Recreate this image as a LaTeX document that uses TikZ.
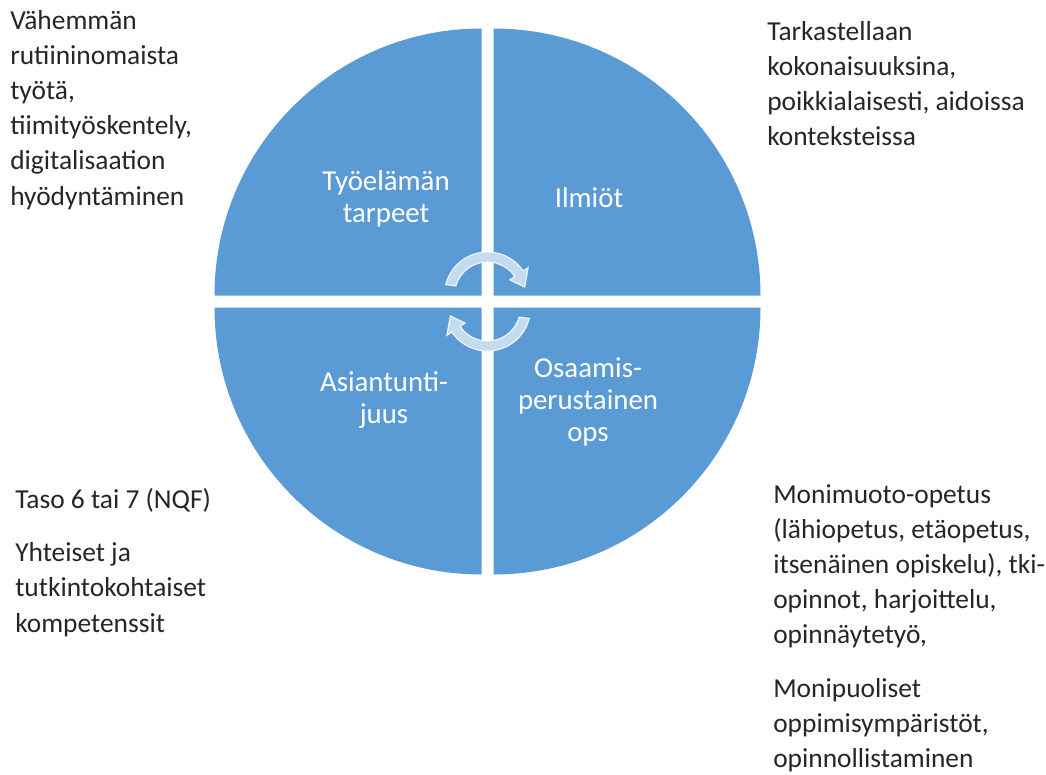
\documentclass[tikz,border=0pt]{standalone}
\usepackage{fontspec}
\setmainfont{Carlito}
\usetikzlibrary{positioning,calc}
\definecolor{quadblue}{HTML}{5B9BD5}
\colorlet{turnfill}{white!64!quadblue}

\begin{document}
\begin{tikzpicture}[x=0.025cm,y=0.025cm,
    quad/.style={fill=quadblue},
    quadtext/.style={white,align=center,font=\fontsize{20.5}{23}\selectfont},
    note/.style={black!85,align=left,anchor=north west,inner sep=0,font=\fontsize{19.5}{25}\selectfont},
    turnarrow/.style={fill=turnfill,draw=white!90!quadblue,line width=0.8}]

    \useasboundingbox (0,0) rectangle (1046,-775);

    % four quarter discs, pulled apart a little
    \coordinate (C) at (487.5,-301.5);
    \fill[quad] ($(C)+(-6,6)$) -- ++(-267,0) arc[start angle=180,end angle=90,radius=267] -- cycle;
    \fill[quad] ($(C)+(6,6)$) -- ++(0,267) arc[start angle=90,end angle=0,radius=267] -- cycle;
    \fill[quad] ($(C)+(-6,-6)$) -- ++(0,-267) arc[start angle=270,end angle=180,radius=267] -- cycle;
    \fill[quad] ($(C)+(6,-6)$) -- ++(267,0) arc[start angle=0,end angle=-90,radius=267] -- cycle;

    % turning arrows in the middle
    \coordinate (Ct) at ($(C)+(0,6.5)$);
    \coordinate (Cb) at ($(C)+(0,-6.5)$);
    \path[turnarrow,shift={(Ct)}] (166:43) arc[start angle=166,end angle=34,radius=43]
        -- (34:49) -- (12:38) -- (34:27) -- (34:33)
        arc[start angle=34,end angle=164,radius=33] -- cycle;
    \path[turnarrow,shift={(Cb)}] (-14:43) arc[start angle=-14,end angle=-146,radius=43]
        -- (-146:49) -- (-168:38) -- (-146:27) -- (-146:33)
        arc[start angle=-146,end angle=-16,radius=33] -- cycle;

    \node[quadtext] (needs) at (386,-199) {Työelämän\\tarpeet};
    \node[quadtext] (phenom) at (589,-198) {Ilmiöt};
    \node[quadtext] (expert) at (384,-400) {Asiantunti-\\juus};
    \node[quadtext] (curric) at (588,-402) {Osaamis-\\perustainen\\ops};

    \node[note] (needsnote) at (10,-10) {Vähemmän\\rutiininomaista\\työtä,\\tiimityöskentely,\\digitalisaation\\hyödyntäminen};
    \node[note] (phenomnote) at (767,-21) {Tarkastellaan\\kokonaisuuksina,\\poikkialaisesti, aidoissa\\konteksteissa};
    \node[note] (expertnote) at (15,-488) {Taso 6 tai 7 (NQF)\\[13pt]Yhteiset ja\\tutkintokohtaiset\\kompetenssit};
    \node[note] (curricnote) at (773,-484) {Monimuoto-opetus\\(lähiopetus, etäopetus,\\itsenäinen opiskelu), tki-\\opinnot, harjoittelu,\\opinnäytetyö,\\[13pt]Monipuoliset\\oppimisympäristöt,\\opinnollistaminen};

\end{tikzpicture}
\end{document}
